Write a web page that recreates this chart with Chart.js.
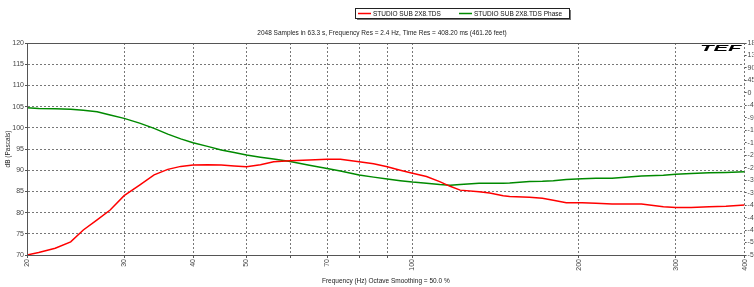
<!DOCTYPE html>
<html>
<head>
<meta charset="utf-8">
<script src="https://cdn.jsdelivr.net/npm/chart.js@4.4.1/dist/chart.umd.min.js"></script>
<style>
  html, body { margin: 0; padding: 0; background: #fff; }
  #wrap { width: 754px; height: 287px; }
</style>
</head>
<body>
<div id="wrap"><canvas id="tef"></canvas></div>
<script>
/* frequency points (Hz) */
const freqs = [20, 21, 22.5, 24, 25.3, 26.8, 28.3, 30, 32, 34, 36, 38, 40, 42.5, 45, 47.5,
  50, 53, 56, 60, 65, 70, 74, 80, 85, 90, 95, 100, 106, 112, 117, 122, 132, 138, 146, 150,
  163, 172, 180, 190, 203, 215, 230, 260, 285, 300, 320, 345, 370, 400];

/* magnitude, dB (Pascals) */
const magnitude = [70.0, 70.6, 71.6, 73.1, 75.9, 78.3, 80.6, 84.0, 86.5, 88.9, 90.2, 90.9, 91.2, 91.3, 91.2, 91.0,
  90.8, 91.3, 92.0, 92.2, 92.4, 92.6, 92.6, 92.0, 91.5, 90.8, 90.0, 89.3, 88.5, 87.3, 86.2, 85.3, 84.9, 84.6, 84.0, 83.8,
  83.6, 83.4, 82.9, 82.3, 82.3, 82.2, 82.0, 82.0, 81.4, 81.2, 81.2, 81.4, 81.5, 81.8];

/* phase, degrees */
const phase = [-54, -56, -57, -59, -63, -68, -80, -92, -109, -128, -149, -166, -180, -193, -206, -215,
  -224, -232, -239, -248, -261, -273, -282, -296, -304, -311, -317, -322, -326, -331, -333, -331, -326, -326, -326, -325,
  -320, -319, -317, -313, -310, -308, -308, -300, -297, -294, -291, -288, -287, -285];

/* axis ticks */
const freqTicks = [20, 30, 40, 50, 60, 70, 80, 90, 100, 200, 300, 400];
const freqLabels = [20, 30, 40, 50, 70, 100, 200, 300, 400];

const FONT = "'Liberation Sans', Arial, sans-serif";
const subtitle = "2048 Samples in 63.3 s, Frequency Res = 2.4 Hz, Time Res = 408.20 ms (461.26 feet)";

/* legend box, subtitle, frame and logo */
const decor = {
  id: "decor",
  afterDraw(chart) {
    const ctx = chart.ctx;
    const a = chart.chartArea;
    ctx.save();
    // frame (top/left/bottom solid)
    ctx.strokeStyle = "#555";
    ctx.lineWidth = 1;
    ctx.beginPath();
    ctx.moveTo(a.right, a.top + 0.5);
    ctx.lineTo(a.left + 0.5, a.top + 0.5);
    ctx.lineTo(a.left + 0.5, a.bottom + 0.5);
    ctx.lineTo(a.right, a.bottom + 0.5);
    ctx.stroke();

    // subtitle
    ctx.fillStyle = "#222";
    ctx.font = "6.5px " + FONT;
    ctx.textAlign = "center";
    ctx.textBaseline = "middle";
    ctx.fillText(subtitle, 382, 33);

    // legend box
    const bx = 355, by = 8, bw = 214, bh = 10;
    ctx.fillStyle = "#777";
    ctx.fillRect(bx + 2, by + 2, bw, bh);
    ctx.fillStyle = "#fff";
    ctx.fillRect(bx, by, bw, bh);
    ctx.strokeStyle = "#222";
    ctx.strokeRect(bx + 0.5, by + 0.5, bw, bh);
    const items = chart.data.datasets.map((d) => ({ label: d.label, color: d.borderColor }));
    const xs = [358, 459];
    ctx.textAlign = "left";
    items.forEach((it, i) => {
      ctx.strokeStyle = it.color;
      ctx.lineWidth = 1.5;
      ctx.beginPath();
      ctx.moveTo(xs[i], by + 5.5);
      ctx.lineTo(xs[i] + 13, by + 5.5);
      ctx.stroke();
      ctx.fillStyle = "#111";
      ctx.fillText(it.label, xs[i] + 15, by + 6);
    });

    // TEF logo
    ctx.fillStyle = "#fff";
    ctx.fillRect(698, 44, 46, 10);
    ctx.save();
    ctx.translate(700, 49);
    ctx.scale(2.0, 0.75);
    ctx.fillStyle = "#000";
    ctx.font = "italic bold 11px " + FONT;
    ctx.textAlign = "left";
    ctx.textBaseline = "middle";
    ctx.fillText("TEF", 0, 0);
    ctx.restore();
    ctx.restore();
  },
};

new Chart(document.getElementById("tef"), {
  type: "line",
  data: {
    datasets: [
      {
        label: "STUDIO SUB 2X8.TDS",
        data: freqs.map((f, i) => ({ x: f, y: magnitude[i] })),
        borderColor: "#ff0000",
        borderWidth: 1.5,
        pointRadius: 0,
        tension: 0,
        yAxisID: "y",
      },
      {
        label: "STUDIO SUB 2X8.TDS Phase",
        data: freqs.map((f, i) => ({ x: f, y: phase[i] })),
        borderColor: "#008a00",
        borderWidth: 1.5,
        pointRadius: 0,
        tension: 0,
        yAxisID: "y2",
      },
    ],
  },
  options: {
    responsive: true,
    maintainAspectRatio: false,
    animation: false,
    layout: { padding: { top: 43, left: 0, right: 0, bottom: 0 } },
    plugins: {
      legend: { display: false },
      tooltip: { enabled: false },
    },
    scales: {
      x: {
        type: "logarithmic",
        min: 20,
        max: 400,
        afterBuildTicks: (s) => { s.ticks = freqTicks.map((v) => ({ value: v })); },
        afterFit: (s) => { s.height = 32; },
        ticks: {
          autoSkip: false,
          minRotation: 90,
          maxRotation: 90,
          padding: 1,
          color: "#444",
          font: { family: FONT, size: 7 },
          callback: (v) => (freqLabels.includes(v) ? String(v) : ""),
        },
        grid: { color: "#777", tickLength: 3, tickColor: "#555", tickBorderDash: [] },
        border: { display: true, color: "#555", dash: [2, 2] },
        title: {
          display: true,
          text: "Frequency (Hz) Octave Smoothing = 50.0 %",
          color: "#222",
          font: { family: FONT, size: 6.5 },
          padding: { top: 0, bottom: 2 },
        },
      },
      y: {
        position: "left",
        min: 70,
        max: 120,
        afterFit: (s) => { s.width = 27; },
        ticks: {
          stepSize: 5,
          autoSkip: false,
          padding: 1,
          color: "#444",
          font: { family: FONT, size: 7 },
        },
        grid: { color: "#777", tickLength: 2, tickColor: "#555", tickBorderDash: [] },
        border: { display: true, color: "#555", dash: [2, 2] },
        title: {
          display: true,
          text: "dB (Pascals)",
          color: "#222",
          font: { family: FONT, size: 6.5 },
          padding: { top: 4, bottom: 0 },
        },
      },
      y2: {
        position: "right",
        min: -585,
        max: 180,
        afterFit: (s) => { s.width = 9; },
        ticks: {
          stepSize: 45,
          maxTicksLimit: 30,
          autoSkip: false,
          padding: 1,
          color: "#444",
          font: { family: FONT, size: 7 },
        },
        grid: { drawOnChartArea: false, tickLength: 2, color: "#555" },
        border: { display: false },
      },
    },
  },
  plugins: [decor],
});
</script>
</body>
</html>
